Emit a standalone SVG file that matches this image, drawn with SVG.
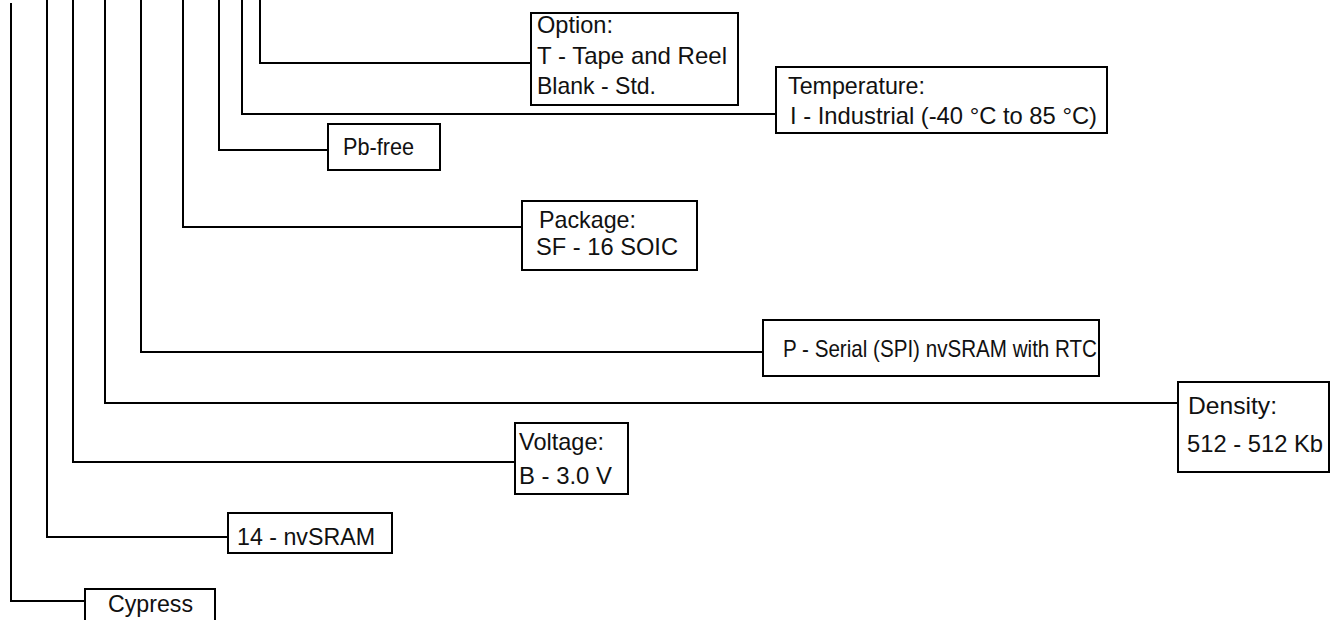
<svg xmlns="http://www.w3.org/2000/svg" width="1336" height="620" viewBox="0 0 1336 620">
<style>
.box{fill:#fff;stroke:#000;stroke-width:2}
.ln{fill:none;stroke:#000;stroke-width:2}
text{font-family:"Liberation Sans",Arial,sans-serif;font-size:24px;fill:#111}
</style>
<rect width="1336" height="620" fill="#fff"/>
<g id="connectors">
<polyline class="ln" points="11,3 11,601 85,601"/>
<polyline class="ln" points="47,0 47,537 228,537"/>
<polyline class="ln" points="73,0 73,462 515,462"/>
<polyline class="ln" points="105,0 105,403 1178,403"/>
<polyline class="ln" points="141,0 141,352 763,352"/>
<polyline class="ln" points="183,0 183,227 522,227"/>
<polyline class="ln" points="219,0 219,150 328,150"/>
<polyline class="ln" points="242,0 242,114 776,114"/>
<polyline class="ln" points="260,0 260,63 531,63"/>
</g>
<g id="option">
<rect class="box" x="531" y="13" width="207" height="92"/>
<text x="537" y="33" textLength="76" lengthAdjust="spacingAndGlyphs">Option:</text>
<text x="537" y="64" textLength="190" lengthAdjust="spacingAndGlyphs">T - Tape and Reel</text>
<text x="537" y="94" textLength="119" lengthAdjust="spacingAndGlyphs">Blank - Std.</text>
</g>
<g id="temperature">
<rect class="box" x="776" y="67" width="331" height="66"/>
<text x="788" y="94" textLength="137" lengthAdjust="spacingAndGlyphs">Temperature:</text>
<text x="790" y="124" textLength="307" lengthAdjust="spacingAndGlyphs">I - Industrial (-40 °C to 85 °C)</text>
</g>
<g id="pbfree">
<rect class="box" x="328" y="124" width="112" height="46"/>
<text x="343" y="155" textLength="71" lengthAdjust="spacingAndGlyphs">Pb-free</text>
</g>
<g id="package">
<rect class="box" x="522" y="201" width="175" height="69"/>
<text x="539" y="228" textLength="97" lengthAdjust="spacingAndGlyphs">Package:</text>
<text x="536" y="255" textLength="142" lengthAdjust="spacingAndGlyphs">SF - 16 SOIC</text>
</g>
<g id="serial">
<rect class="box" x="763" y="320" width="336" height="56"/>
<text x="783" y="357" textLength="314" lengthAdjust="spacingAndGlyphs">P - Serial (SPI) nvSRAM with RTC</text>
</g>
<g id="density">
<rect class="box" x="1178" y="382" width="151" height="90"/>
<text x="1188" y="414" textLength="89" lengthAdjust="spacingAndGlyphs">Density:</text>
<text x="1187" y="452" textLength="136" lengthAdjust="spacingAndGlyphs">512 - 512 Kb</text>
</g>
<g id="voltage">
<rect class="box" x="515" y="423" width="113" height="71"/>
<text x="519" y="450" textLength="85" lengthAdjust="spacingAndGlyphs">Voltage:</text>
<text x="519" y="484" textLength="93" lengthAdjust="spacingAndGlyphs">B - 3.0 V</text>
</g>
<g id="nvsram">
<rect class="box" x="228" y="513" width="164" height="40"/>
<text x="237" y="545" textLength="138" lengthAdjust="spacingAndGlyphs">14 - nvSRAM</text>
</g>
<g id="cypress">
<rect class="box" x="85" y="589" width="130" height="40"/>
<text x="108" y="612" textLength="85" lengthAdjust="spacingAndGlyphs">Cypress</text>
</g>
</svg>
